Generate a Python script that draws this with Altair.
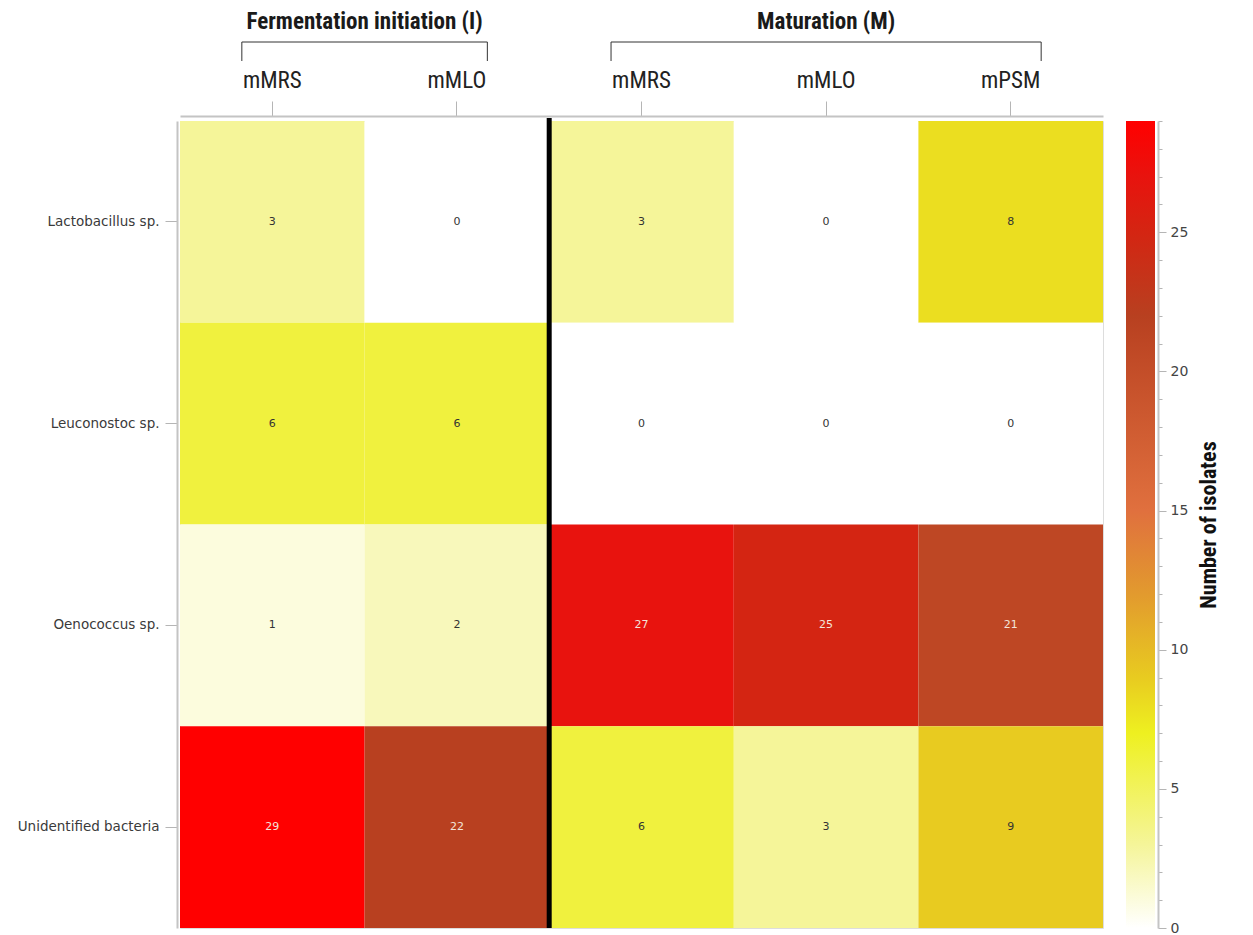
import altair as alt
import pandas as pd

# ---------------- data ----------------
species = ["Lactobacillus sp.", "Leuconostoc sp.", "Oenococcus sp.", "Unidentified bacteria"]
col_keys = ["I|mMRS", "I|mMLO", "M|mMRS", "M|mMLO", "M|mPSM"]

i_mmrs = [3, 6, 1, 29]
i_mmlo = [0, 6, 2, 22]
m_mmrs = [3, 0, 27, 6]
m_mmlo = [0, 0, 25, 3]
m_mpsm = [8, 0, 21, 9]
series = [i_mmrs, i_mmlo, m_mmrs, m_mmlo, m_mpsm]

group_titles = ["Fermentation initiation (I)", "Maturation (M)"]
group_start = ["I|mMRS", "M|mMRS"]
group_end = ["I|mMLO", "M|mPSM"]
group_mid = ["I|mMLO", "M|mMLO"]

stop_values = [0, 3, 7, 9, 12, 15, 22, 25, 27, 29]
stop_colors = ["#ffffff", "#f5f599", "#eef020", "#e8cb20", "#e29a2e",
               "#e0703e", "#b84020", "#d42512", "#e8130e", "#ff0000"]
legend_ticks = list(range(0, 30))

# ---------------- tables ----------------
rows = []
for key, vals in zip(col_keys, series):
    for sp, v in zip(species, vals):
        rows.append({"col": key, "species": sp, "v": v})
df = pd.DataFrame(rows)
groups = pd.DataFrame({"title": group_titles, "start": group_start,
                       "end": group_end, "mid": group_mid})
sep = pd.DataFrame({"col": ["M|mMRS"]})
cb = pd.DataFrame({"lo": [stop_values[0]], "hi": [stop_values[-1]]})

NARROW = "'Liberation Sans Narrow', 'Arial Narrow', 'Roboto Condensed', 'Liberation Sans', sans-serif"
VERD = "'DejaVu Sans', Verdana, sans-serif"

W, H = 923, 807
vmax = stop_values[-1]

xscale = alt.Scale(domain=col_keys, paddingInner=0, paddingOuter=0)
xaxis = alt.Axis(orient="top", title=None, offset=5, tickSize=15, tickColor="#b5b5b5",
                 domainColor="#c4c4c4", domainWidth=2, labelPadding=9,
                 labelFont=NARROW, labelFontSize=23, labelColor="#222222", labelAngle=0,
                 labelExpr="split(datum.label, '|')[1]")

color_scale = alt.Scale(domain=stop_values, range=stop_colors, interpolate="rgb")
yenc = alt.Y("species:N", sort=species, title=None,
             axis=alt.Axis(orient="left", offset=3, tickSize=12, tickColor="#b5b5b5",
                           domainColor="#c4c4c4", domainWidth=2, labelPadding=6,
                           labelFont=VERD, labelFontSize=13.5, labelColor="#3a3a3a"))

heat = alt.Chart(df).mark_rect().encode(
    x=alt.X("col:N", scale=xscale, axis=xaxis),
    y=yenc,
    color=alt.Color("v:Q", scale=color_scale, legend=None),
)

labels = alt.Chart(df).mark_text(font=VERD, fontSize=11).encode(
    x=alt.X("col:N", scale=xscale, axis=xaxis),
    y=yenc,
    text="v:Q",
    color=alt.condition("datum.v >= 15", alt.value("#f3e4da"), alt.value("#333333")),
)

separator = alt.Chart(sep).mark_rule(color="black", strokeWidth=5).encode(
    x=alt.X("col:N", scale=xscale, axis=xaxis, bandPosition=0),
    y=alt.value(-3), y2=alt.value(H),
)

bracket_h = alt.Chart(groups).mark_rule(color="#333333", strokeWidth=1).encode(
    x=alt.X("start:N", scale=xscale, axis=xaxis, bandPosition=0.335),
    x2=alt.X2("end:N", bandPosition=0.665),
    y=alt.value(-79),
)
bracket_l = alt.Chart(groups).mark_rule(color="#333333", strokeWidth=1).encode(
    x=alt.X("start:N", scale=xscale, axis=xaxis, bandPosition=0.335),
    y=alt.value(-79), y2=alt.value(-60),
)
bracket_r = alt.Chart(groups).mark_rule(color="#333333", strokeWidth=1).encode(
    x=alt.X("end:N", scale=xscale, axis=xaxis, bandPosition=0.665),
    y=alt.value(-79), y2=alt.value(-60),
)

title_style = dict(font=NARROW, fontSize=23, fontWeight="bold", color="#1a1a1a", baseline="middle")
title_i = alt.Chart(groups).transform_filter(alt.datum.start == group_start[0]).mark_text(**title_style).encode(
    x=alt.X("mid:N", scale=xscale, axis=xaxis, bandPosition=0),
    y=alt.value(-99), text="title:N",
)
title_m = alt.Chart(groups).transform_filter(alt.datum.start == group_start[1]).mark_text(**title_style).encode(
    x=alt.X("mid:N", scale=xscale, axis=xaxis, bandPosition=0.5),
    y=alt.value(-99), text="title:N",
)

main = alt.layer(heat, labels, separator, bracket_h, bracket_l, bracket_r, title_i, title_m)

grad = alt.LinearGradient(
    gradient="linear",
    stops=[alt.GradientStop(color=c, offset=s / vmax) for s, c in zip(stop_values, stop_colors)],
    x1=0, x2=0, y1=1, y2=0,
)
colorbar = alt.Chart(cb).mark_rect(fill=grad).encode(
    x=alt.value(W + 23), x2=alt.value(W + 52),
    y=alt.Y("lo:Q", scale=alt.Scale(domain=[0, vmax], nice=False, zero=True),
            axis=alt.Axis(orient="right", offset=55, values=legend_ticks,
                          labelExpr="datum.value % 5 === 0 ? datum.label : ''",
                          labelOverlap=False, labelFlush=False,
                          tickSize={"condition": {"test": "datum.value % 5 === 0", "value": 8}, "value": 4},
                          tickColor="#b5b5b5", domainColor="#c4c4c4", domainWidth=2,
                          labelFont=VERD, labelFontSize=14, labelColor="#444444", labelPadding=4,
                          title="Number of isolates", titleAngle=270, titleFont=NARROW,
                          titleFontSize=22, titleFontWeight="bold", titleColor="#111111",
                          titlePadding=33, grid=False)),
    y2="hi:Q",
)

chart = alt.layer(main, colorbar).resolve_scale(y="independent").properties(
    width=W, height=H,
    autosize=alt.AutoSizeParams(type="none"),
    padding={"left": 172, "top": 113, "right": 140, "bottom": 20},
).configure_view(stroke=None).configure(background="white")

chart.save("out.html", embed_options={"renderer": "svg", "actions": False})
